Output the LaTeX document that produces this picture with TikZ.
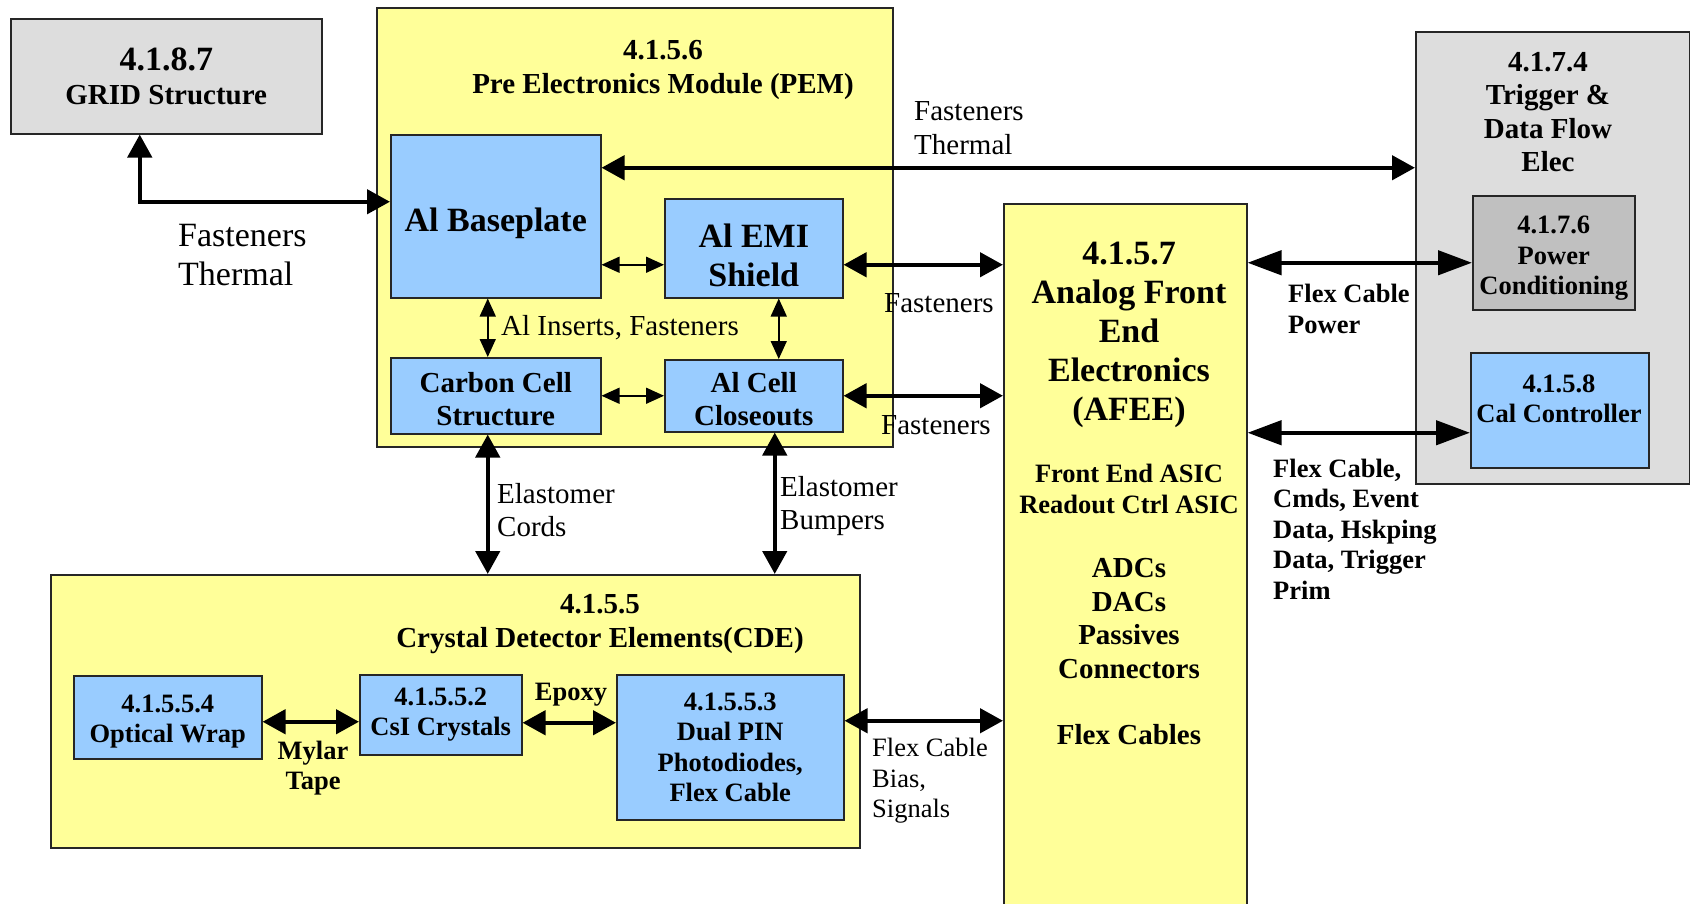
\documentclass[tikz,border=0pt]{standalone}
\usepackage{fontspec}
\setmainfont{Liberation Serif}
\usetikzlibrary{arrows.meta}
\definecolor{boxyellow}{HTML}{FFFF99}
\definecolor{boxblue}{HTML}{99CCFF}
\definecolor{boxgray}{HTML}{DDDDDD}
\definecolor{boxdarkgray}{HTML}{C0C0C0}
\newcommand{\titlesize}{\fontsize{34}{39}\selectfont}
\newcommand{\mainsize}{\fontsize{29}{33.4}\selectfont}
\newcommand{\smallsize}{\fontsize{26.5}{30.5}\selectfont}
% push the first line down a bit
\newcommand{\lowerby}[1]{\rule{0pt}{#1}}
\tikzset{
  box/.style={draw=black!85, line width=1.5pt, anchor=north west, align=center, font=\bfseries},
  yellowbox/.style={box, fill=boxyellow},
  bluebox/.style={box, fill=boxblue},
  graybox/.style={box, fill=boxgray},
  lbl/.style={inner sep=0pt, align=left, anchor=west},
  link/.style={line width=4.5pt, {Triangle[length=23pt,width=24pt]}-{Triangle[length=23pt,width=24pt]}},
  longlink/.style={line width=4.5pt, {Triangle[length=34pt,width=24pt]}-{Triangle[length=34pt,width=24pt]}},
  smalllink/.style={line width=1.5pt, {Triangle[length=18pt,width=16pt]}-{Triangle[length=18pt,width=16pt]}}
}
\begin{document}
\begin{tikzpicture}[x=1pt,y=-1pt]
  \useasboundingbox (0,0) rectangle (1690,903);

  % The outer blocks
  \node[graybox, minimum width=311pt, minimum height=115pt, font=\bfseries\mainsize] (grid) at (10,18)
    {{\titlesize 4.1.8.7}\\GRID Structure};
  \node[yellowbox, minimum width=516pt, minimum height=439pt] (pem) at (376,7) {};
  \node[graybox, minimum width=274pt, minimum height=452pt] (trig) at (1415,31) {};
  \node[yellowbox, minimum width=243pt, minimum height=717pt] (afee) at (1003,203) {};
  \node[yellowbox, minimum width=809pt, minimum height=273pt] (cde) at (50,574) {};

  % Titles
  \node[inner sep=0pt, align=center, font=\bfseries\mainsize] (pemtitle) at (663,70)
    {4.1.5.6\\Pre Electronics Module (PEM)};
  \node[inner sep=0pt, align=center, font=\bfseries\mainsize] (cdetitle) at (600,624)
    {4.1.5.5\\Crystal Detector Elements(CDE)};
  \node[inner sep=0pt, align=center, font=\bfseries\mainsize] (trigtitle) at (1548,112)
    {4.1.7.4\\Trigger \&\\Data Flow\\Elec};
  \node[inner sep=0pt, align=center, font=\bfseries\titlesize] (afeetitle) at (1129,335)
    {4.1.5.7\\Analog Front\\End\\Electronics\\(AFEE)};
  \node[inner sep=0pt, align=center, font=\bfseries\smallsize] (afeeasic) at (1129,489)
    {Front End ASIC\\Readout Ctrl ASIC};
  \node[inner sep=0pt, align=center, font=\bfseries\mainsize] (afeeparts) at (1129,652)
    {ADCs\\DACs\\Passives\\Connectors\\[33.4pt]Flex Cables};

  % PEM parts
  \node[bluebox, minimum width=210pt, minimum height=163pt, font=\bfseries\titlesize] (base) at (390,134)
    {\lowerby{38.5pt}Al Baseplate};
  \node[bluebox, minimum width=178pt, minimum height=99pt, font=\bfseries\titlesize] (emi) at (664,198)
    {\lowerby{37pt}Al EMI\\Shield};
  \node[bluebox, minimum width=210pt, minimum height=76pt, font=\bfseries\mainsize] (carbon) at (390,357)
    {\lowerby{26.5pt}Carbon Cell\\Structure};
  \node[bluebox, minimum width=178pt, minimum height=72pt, font=\bfseries\mainsize] (close) at (664,359)
    {\lowerby{26.5pt}Al Cell\\Closeouts};

  % Trigger parts
  \node[box, fill=boxdarkgray, minimum width=162pt, minimum height=114pt, font=\bfseries\smallsize] (power) at (1472,195)
    {\lowerby{29pt}4.1.7.6\\Power\\Conditioning};
  \node[bluebox, minimum width=178pt, minimum height=115pt] (cal) at (1470,352) {};
  \node[inner sep=0pt, align=center, font=\bfseries\smallsize] (caltext) at (1559,399) {4.1.5.8\\Cal Controller};

  % CDE parts
  \node[bluebox, minimum width=188pt, minimum height=83pt, font=\bfseries\smallsize] (wrap) at (73,675)
    {\lowerby{26.6pt}4.1.5.5.4\\Optical Wrap};
  \node[bluebox, minimum width=162pt, minimum height=80pt, font=\bfseries\smallsize] (csi) at (359,674) {4.1.5.5.2\\CsI Crystals};
  \node[bluebox, minimum width=227pt, minimum height=145pt, font=\bfseries\smallsize] (pin) at (616,674)
    {4.1.5.5.3\\Dual PIN\\Photodiodes,\\Flex Cable};

  % Connections
  \draw[link] ([xshift=-26.5pt]grid.south) |- ([yshift=14.5pt]base.west);
  \draw[link] ([yshift=48.5pt]base.east) -- ([yshift=48.5pt]base.east -| trig.west);
  \draw[smalllink] ([yshift=-48.5pt]base.east) -- ([yshift=-48.5pt]base.east -| emi.west);
  \draw[smalllink] ([xshift=-8pt]base.south) -- ([xshift=-8pt]base.south |- carbon.north);
  \draw[smalllink] ([xshift=25pt]emi.south) -- ([xshift=25pt]emi.south |- close.north);
  \draw[smalllink] (carbon.east |- close.east) -- (close.west);
  \draw[link] ([yshift=-16.5pt]emi.east) -- ([yshift=-16.5pt]emi.east -| afee.west);
  \draw[link] (close.east) -- (close.east -| afee.west);
  \draw[link] ([xshift=-8pt]carbon.south) -- ([xshift=-8pt]carbon.south |- cde.north);
  \draw[link] ([xshift=21pt]close.south) -- ([xshift=21pt]close.south |- cde.north);
  \draw[longlink] ([yshift=-10pt]power.west -| afee.east) -- ([yshift=-10pt]power.west);
  \draw[longlink] ([yshift=-22.5pt]cal.west -| afee.east) -- ([yshift=-22.5pt]cal.west);
  \draw[link] ([yshift=26.5pt]pin.east) -- ([yshift=26.5pt]pin.east -| afee.west);
  \draw[link] ([yshift=-4.5pt]wrap.east) -- ([yshift=-4.5pt]wrap.east -| csi.west);
  \draw[link] ([yshift=-8pt]csi.east) -- ([yshift=-8pt]csi.east -| pin.west);

  % Labels
  \node[lbl, font=\titlesize] (gridlbl) at (178,255) {Fasteners\\Thermal};
  \node[lbl, font=\mainsize] (triglbl) at (914,128) {Fasteners\\Thermal};
  \node[lbl, font=\mainsize] (insertlbl) at (501,328) {Al Inserts, Fasteners};
  \node[lbl, font=\mainsize] (emilbl) at (884,303) {Fasteners};
  \node[lbl, font=\mainsize] (closelbl) at (881,425) {Fasteners};
  \node[lbl, font=\mainsize] (cordlbl) at (497,510) {Elastomer\\Cords};
  \node[lbl, font=\mainsize] (bumperlbl) at (780,506) {Elastomer\\Bumpers};
  \node[lbl, font=\bfseries\smallsize] (powerlbl) at (1288,309) {Flex Cable\\Power};
  \node[lbl, font=\bfseries\smallsize] (callbl) at (1273,529)
    {Flex Cable,\\Cmds, Event\\Data, Hskping\\Data, Trigger\\Prim};
  \node[lbl, font=\smallsize] (pinlbl) at (872,781) {Flex Cable\\Bias,\\Signals};
  \node[inner sep=0pt, align=center, font=\bfseries\smallsize] (mylarlbl) at (313,768) {Mylar\\Tape};
  \node[inner sep=0pt, align=center, font=\bfseries\smallsize] (epoxylbl) at (571,695) {Epoxy};
\end{tikzpicture}
\end{document}
